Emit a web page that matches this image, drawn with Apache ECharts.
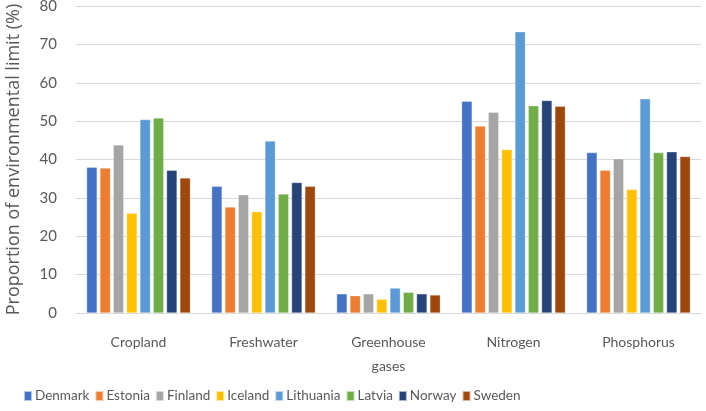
<!DOCTYPE html>
<html><head><meta charset="utf-8">
<script src="https://cdn.jsdelivr.net/npm/echarts@6/dist/echarts.min.js"></script>
<style>html,body{margin:0;padding:0;background:#fff}#c{width:706px;height:411px}</style>
</head><body><div id="c"></div>
<script>
var categories = ['Cropland', 'Freshwater', 'Greenhouse\ngases', 'Nitrogen', 'Phosphorus'];
var countries = ['Denmark', 'Estonia', 'Finland', 'Iceland', 'Lithuania', 'Latvia', 'Norway', 'Sweden'];
var colors = ['#4472C4', '#ED7D31', '#A5A5A5', '#FFC000', '#5B9BD5', '#70AD47', '#264478', '#9E480E'];
var denmark   = [38.0, 33.0, 5.0, 55.2, 41.8];
var estonia   = [37.8, 27.6, 4.5, 48.7, 37.2];
var finland   = [43.8, 30.8, 5.0, 52.3, 40.2];
var iceland   = [26.0, 26.4, 3.6, 42.6, 32.2];
var lithuania = [50.4, 44.8, 6.5, 73.3, 55.8];
var latvia    = [50.8, 31.0, 5.4, 54.0, 41.8];
var norway    = [37.2, 34.0, 5.0, 55.4, 42.0];
var sweden    = [35.2, 33.0, 4.7, 53.9, 40.8];
var seriesData = [denmark, estonia, finland, iceland, lithuania, latvia, norway, sweden];
var yTicks = [0, 10, 20, 30, 40, 50, 60, 70, 80];

var font = 'Lato';
var chart = echarts.init(document.getElementById('c'));
chart.setOption({
  animation: false,
  textStyle: {fontFamily: font},
  grid: {left: 76, right: 5, top: 6, bottom: 98, containLabel: false, outerBoundsMode: 'none'},
  legend: {
    data: countries, bottom: 3, left: 18, itemWidth: 8, itemHeight: 10, itemGap: 5,
    icon: 'rect',
    textStyle: {color: '#595959', fontSize: 13.5, fontFamily: font, padding: [0, 0, 0, -2]}
  },
  xAxis: {
    type: 'category', data: categories,
    axisLine: {lineStyle: {color: '#d9d9d9', width: 1}},
    axisTick: {show: false},
    axisLabel: {color: '#595959', fontSize: 14, margin: 17, lineHeight: 24}
  },
  yAxis: {
    type: 'value', min: yTicks[0], max: yTicks[yTicks.length - 1], interval: 10,
    name: 'Proportion of environmental limit (%)', nameLocation: 'middle', nameGap: 53,
    nameTextStyle: {color: '#595959', fontSize: 18, fontFamily: 'Open Sans'},
    axisLine: {show: false}, axisTick: {show: false},
    axisLabel: {color: '#595959', fontSize: 15, margin: 19},
    splitLine: {lineStyle: {color: '#d9d9d9', width: 1}}
  },
  series: countries.map(function (n, i) {
    return {
      name: n, type: 'bar', data: seriesData[i], barGap: '27%', barCategoryGap: '17%',
      itemStyle: {color: colors[i], borderColor: 'rgba(255,255,255,0.6)', borderWidth: 0.5}
    };
  })
});
</script></body></html>
